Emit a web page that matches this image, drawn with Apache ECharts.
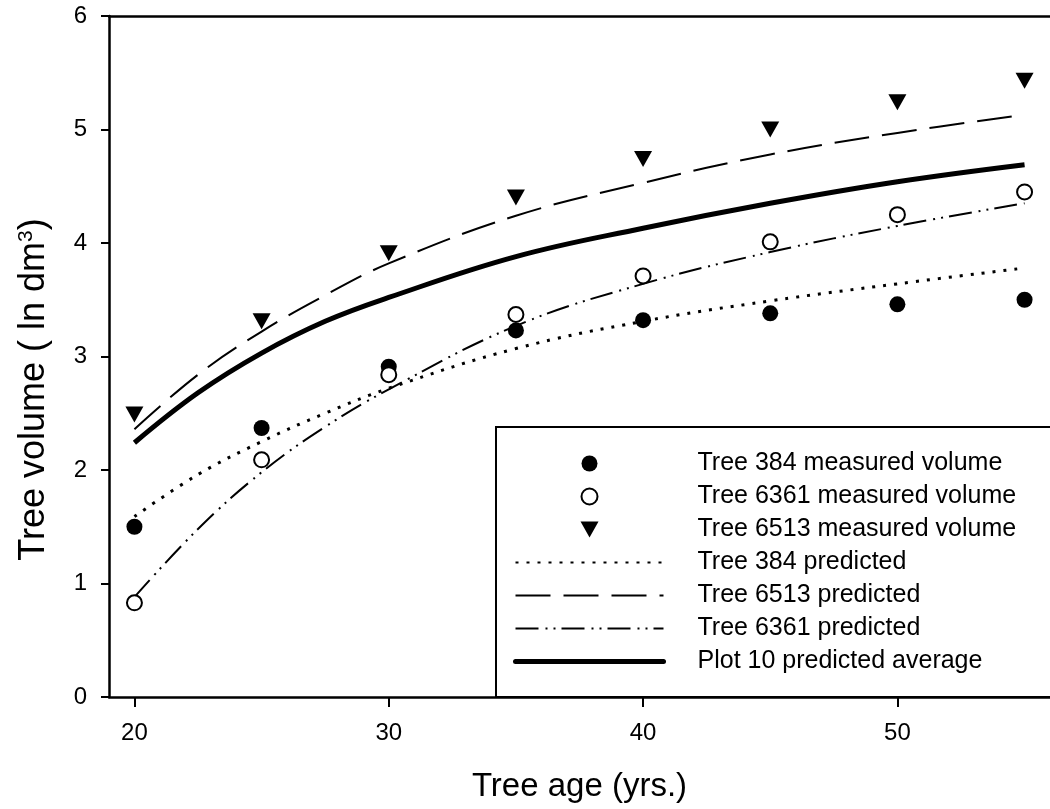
<!DOCTYPE html>
<html><head><meta charset="utf-8">
<script src="https://cdn.jsdelivr.net/npm/echarts@6/dist/echarts.min.js"></script>
<style>html,body{margin:0;padding:0;background:#fff}#c{width:1050px;height:809px}</style>
</head><body><div id="c"></div>
<script>
// ---- data ----
const ages = [20, 25, 30, 35, 40, 45, 50, 55];
const tree384Measured  = [1.50, 2.37, 2.91, 3.23, 3.32, 3.38, 3.46, 3.50];
const tree6361Measured = [0.83, 2.09, 2.84, 3.37, 3.71, 4.01, 4.25, 4.45];
const tree6513Measured = [2.49, 3.31, 3.91, 4.40, 4.74, 5.00, 5.24, 5.43];

const predAges     = [20, 22.5, 25, 27.5, 30, 35, 40, 45, 50, 55];
const tree384Pred  = [1.59, 1.96, 2.25, 2.50, 2.72, 3.07, 3.31, 3.49, 3.64, 3.78];
const tree6513Pred = [2.36, 2.84, 3.22, 3.54, 3.82, 4.24, 4.53, 4.78, 4.97, 5.13];
const tree6361Pred = [0.88, 1.48, 1.98, 2.38, 2.71, 3.27, 3.64, 3.92, 4.15, 4.35];
const plotAvgPred  = [2.24, 2.68, 3.03, 3.31, 3.52, 3.88, 4.13, 4.35, 4.54, 4.69];

const xTickValues = [20, 30, 40, 50];
const yMin = 0, yMax = 6, yStep = 1;
const xMin = 19, xMax = 56;

const names = [
  'Tree 384 measured volume',
  'Tree 6361 measured volume',
  'Tree 6513 measured volume',
  'Tree 384 predicted',
  'Tree 6513 predicted',
  'Tree 6361 predicted',
  'Plot 10 predicted average'
];

function pairs(xs, ys) { return xs.map((x, i) => [x, ys[i]]); }

const FONT = '"Liberation Sans", Arial, sans-serif';
const chart = echarts.init(document.getElementById('c'), null, { renderer: 'canvas' });

function lineSeries(name, data, width, dash) {
  return {
    name, type: 'line', data: pairs(predAges, data), smooth: 0.4,
    showSymbol: false, symbol: 'none', silent: true, z: 2,
    itemStyle: { color: '#000' },
    lineStyle: { color: '#000', width: width, type: dash, cap: 'butt' }
  };
}
function scatterSeries(name, data, symbol, size, itemStyle, rotate) {
  return {
    name, type: 'scatter', data: pairs(ages, data), symbol, symbolSize: size,
    symbolRotate: rotate || 0, silent: true, z: 3, itemStyle
  };
}

const hiddenDot = { color: 'rgba(0,0,0,0)', borderWidth: 0, opacity: 0 };
const legendData = [
  { name: names[0] },
  { name: names[1] },
  { name: names[2], icon: 'path://M0,0 L18,0 L9,16 Z' },
  { name: names[3], itemStyle: hiddenDot },
  { name: names[4], itemStyle: hiddenDot },
  { name: names[5], itemStyle: hiddenDot },
  { name: names[6], itemStyle: hiddenDot, lineStyle: { width: 5, cap: 'round', type: 'solid', color: '#000' } }
];

chart.setOption({
  animation: false,
  backgroundColor: '#fff',
  textStyle: { fontFamily: FONT, color: '#000' },
  grid: { left: 109, right: -6, top: 16, bottom: 112, containLabel: false },
  xAxis: [{
    type: 'value', min: xMin, max: xMax,
    name: 'Tree age (yrs.)', nameLocation: 'middle', nameGap: 73,
    nameTextStyle: { fontSize: 33, color: '#000', fontFamily: FONT },
    axisLine: { show: true, lineStyle: { color: '#000', width: 2.5 } },
    axisTick: { show: true, inside: false, length: 10, lineStyle: { color: '#000', width: 2 }, customValues: xTickValues },
    axisLabel: { fontSize: 24, color: '#000', margin: 24, fontFamily: FONT, customValues: xTickValues },
    splitLine: { show: false }
  }, {
    type: 'value', min: xMin, max: xMax, position: 'top',
    axisLine: { show: true, onZero: false, lineStyle: { color: '#000', width: 2.5 } },
    axisTick: { show: false }, axisLabel: { show: false }, splitLine: { show: false }
  }],
  yAxis: {
    type: 'value', min: yMin, max: yMax, interval: yStep,
    name: 'Tree volume ( ln dm{sup|3})', nameLocation: 'middle', nameGap: 57,
    nameTextStyle: { fontSize: 36, color: '#000', fontFamily: FONT, padding: [0, 66, 0, 0],
      rich: { sup: { fontSize: 21, verticalAlign: 'top', fontFamily: FONT, color: '#000' } } },
    axisLine: { show: true, lineStyle: { color: '#000', width: 2.5 } },
    axisTick: { show: true, inside: false, length: 8, lineStyle: { color: '#000', width: 2 } },
    axisLabel: { fontSize: 24, color: '#000', margin: 22, fontFamily: FONT },
    splitLine: { show: false }
  },
  legend: {
    orient: 'vertical', left: 496, top: 427,
    data: legendData, selectedMode: false,
    itemWidth: 148, itemHeight: 16, itemGap: 8,
    symbolKeepAspect: true,
    padding: [24, 120, 23, 17],
    backgroundColor: '#fff', borderColor: '#000', borderWidth: 2, borderRadius: 0,
    textStyle: { fontSize: 25, color: '#000', fontFamily: FONT, padding: [0, 0, 0, 29] },
    z: 10
  },
  series: [
    lineSeries(names[3], tree384Pred, 3, [3, 8]),
    lineSeries(names[4], tree6513Pred, 2, [35, 13]),
    lineSeries(names[5], tree6361Pred, 2, [23, 7, 2, 6, 2, 6]),
    lineSeries(names[6], plotAvgPred, 5, 'solid'),
    scatterSeries(names[0], tree384Measured, 'circle', 16, { color: '#000', opacity: 1 }),
    scatterSeries(names[1], tree6361Measured, 'circle', 15, { color: '#fff', borderColor: '#000', borderWidth: 2, opacity: 1 }),
    scatterSeries(names[2], tree6513Measured, 'triangle', [18, 16], { color: '#000', opacity: 1 }, 180)
  ]
});
</script></body></html>
